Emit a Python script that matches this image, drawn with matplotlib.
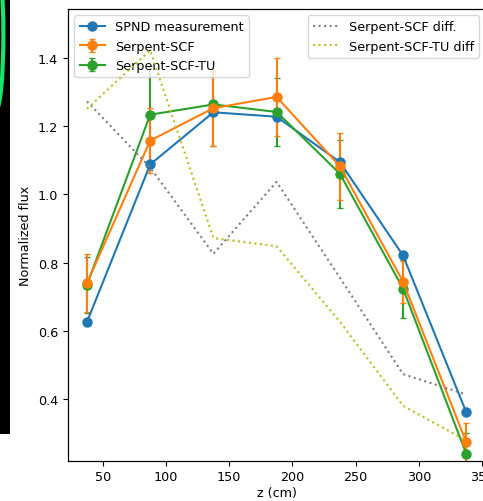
import numpy as np
import matplotlib
matplotlib.use("Agg")
import matplotlib.pyplot as plt
from matplotlib.patches import Rectangle, Ellipse

plt.rcParams["font.size"] = 9.2

# axial positions of the detectors (cm)
z = [37.5, 87.5, 137.5, 187.5, 237.5, 287.5, 337.5]

spnd = [0.626, 1.088, 1.241, 1.228, 1.095, 0.821, 0.361]

scf = [0.740, 1.158, 1.253, 1.286, 1.083, 0.744, 0.273]
scf_err = [0.085, 0.095, 0.110, 0.115, 0.098, 0.061, 0.057]

scf_tu = [0.735, 1.234, 1.264, 1.242, 1.061, 0.724, 0.239]
scf_tu_err = [0.082, 0.142, 0.121, 0.100, 0.100, 0.085, 0.060]

# differences w.r.t. the measurement, drawn on the secondary axis
scf_diff = [1.273, 1.079, 0.826, 1.037, 0.756, 0.473, 0.413]
scf_tu_diff = [1.251, 1.423, 0.872, 0.848, 0.627, 0.380, 0.278]

fig = plt.figure(figsize=(4.83, 5.02), dpi=100)
ax = fig.add_axes([0.1408, 0.0803, 0.8638, 0.8998])

h_tu = ax.errorbar(z, scf_tu, yerr=scf_tu_err, color="tab:green", marker="o",
                   markersize=6.5, capsize=2, label="Serpent-SCF-TU")
h_scf = ax.errorbar(z, scf, yerr=scf_err, color="tab:orange", marker="o",
                    markersize=6.5, capsize=2, label="Serpent-SCF")
h_spnd, = ax.plot(z, spnd, color="tab:blue", marker="o", markersize=6.5,
                  label="SPND measurement")

ax.set_xlim(22.5, 352.5)
ax.set_ylim(0.219, 1.544)
ax.set_xticks([50, 100, 150, 200, 250, 300, 350])
ax.set_yticks([0.4, 0.6, 0.8, 1.0, 1.2, 1.4])
ax.set_xlabel("z (cm)", labelpad=2)
ax.set_ylabel("Normalized flux", labelpad=4)
ax.legend(handles=[h_spnd, h_scf, h_tu], loc="upper left")

ax2 = ax.twinx()
ax2.plot(z, scf_diff, color="tab:gray", linestyle=":", label="Serpent-SCF diff.")
ax2.plot(z, scf_tu_diff, color="tab:olive", linestyle=":", label="Serpent-SCF-TU diff")
ax2.set_ylim(ax.get_ylim())
ax2.tick_params(labelright=False)
ax2.legend(loc="upper right")

# dark strip with a green glow along the left border
fig.patches.append(Rectangle((0, 0.1335), 0.021, 0.8665, transform=fig.transFigure,
                             facecolor="black", edgecolor="none", zorder=-1))
fig.patches.append(Ellipse((-0.008, 0.93), 0.03, 0.30, transform=fig.transFigure,
                           facecolor="none", edgecolor="#19e36a", linewidth=3, zorder=0))

fig.savefig("out.png", dpi=100)
plt.close(fig)
